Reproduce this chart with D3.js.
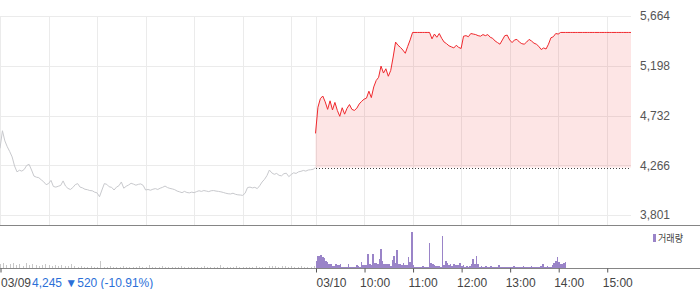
<!DOCTYPE html>
<html>
<head>
<meta charset="utf-8">
<script src="https://cdn.jsdelivr.net/npm/d3@7"></script>
<style>
  body { margin: 0; background: #fff; }
  svg { display: block; font-family: "Liberation Sans", Arial, sans-serif; }
</style>
</head>
<body>
<svg class="stockChart" width="700" height="289"></svg>
<script>
// two sessions, 09:00-15:30 each (390 minutes)
var dayLabels = ['03/09', '03/10'];
var hourLabels = ['10:00', '11:00', '12:00', '13:00', '14:00', '15:00'];
var yTicks = [3801, 4266, 4732, 5198, 5664];
var prevClose = 4245;
var closeText = '4,245 \u25BC520 (-10.91%)';
var legendLabel = '거래량';

// price every 3 minutes
var priceMinutes = d3.range(0, 391, 3);
var day1Price = [
  4425, 4590, 4495, 4440, 4395, 4345, 4260, 4205, 4220, 4212,
  4228, 4265, 4275, 4222, 4165, 4155, 4150, 4130, 4112, 4085,
  4095, 4125, 4068, 4062, 4070, 4078, 4120, 4072, 4050, 4040,
  4058, 4085, 4095, 4062, 4055, 4042, 4038, 4030, 4028, 4015,
  4008, 3972, 4035, 4095, 4088, 4065, 4060, 4035, 4062, 4075,
  4110, 4052, 4070, 4082, 4098, 4090, 4080, 4088, 4092, 4078,
  4035, 4040, 4033, 4042, 4048, 4040, 4052, 4060, 4072, 4058,
  4050, 4045, 4038, 4025, 4018, 4010, 4022, 4012, 4008, 4015,
  4010, 4020, 4028, 4022, 4030, 4025, 4020, 4028, 4030, 4025,
  4022, 4018, 4012, 4005, 4000, 3998, 4005, 3995, 3990, 3988,
  3985, 4005, 4058, 4062, 4055, 4060, 4048, 4075, 4110, 4135,
  4170, 4222, 4195, 4182, 4190, 4172, 4168, 4188, 4192, 4160,
  4180, 4196, 4190, 4205, 4210, 4218, 4212, 4222, 4225, 4228,
  4245
];
var day2Price = [
  4565, 4810, 4890, 4915, 4860, 4790, 4870, 4785, 4855, 4780,
  4725, 4805, 4745, 4800, 4835, 4790, 4780, 4800, 4840, 4865,
  4885, 4895, 4960, 4900, 5000, 5060, 5090, 5195, 5130, 5170,
  5100, 5155, 5280, 5420, 5390, 5370, 5345, 5315, 5380, 5440,
  5510, 5510, 5510, 5510, 5510, 5510, 5510, 5510, 5450, 5495,
  5465, 5500, 5455, 5420, 5405, 5385, 5375, 5365, 5390, 5370,
  5360, 5475, 5480, 5470, 5500, 5495, 5490, 5480, 5475, 5490,
  5480, 5490, 5465, 5455, 5430, 5415, 5400, 5440, 5480, 5485,
  5440, 5415, 5440, 5445, 5420, 5405, 5400, 5420, 5445, 5430,
  5410, 5400, 5380, 5350, 5365, 5355, 5400, 5460, 5470, 5500,
  5495, 5510, 5510, 5510, 5510, 5510, 5510, 5510, 5510, 5510,
  5510, 5510, 5510, 5510, 5510, 5510, 5510, 5510, 5510, 5510,
  5510, 5510, 5510, 5510, 5510, 5510, 5510, 5510, 5510, 5510,
  5510
];

// volume (thousand shares), 4-minute buckets on day 1, 2-minute on day 2
var day1VolMinutes = d3.range(0, 392, 4);
var day1Vol = [
  4, 5, 3, 4, 5, 3, 4, 2, 5, 3, 4, 3, 2, 3, 4,
  3, 2, 3, 2, 3, 2, 2, 4, 2, 1, 2, 1, 1, 2, 1, 1,
  7,
  1, 1, 2, 1, 1, 1, 2, 1, 1, 1, 1, 2, 1, 1, 3, 1, 1, 1, 2, 1, 1, 1, 1, 1, 2, 1, 1, 1, 1,
  1, 1, 2, 1, 1, 1, 1, 3, 1, 1, 1, 1, 2, 1, 1, 1, 1, 1, 2, 1, 1, 1, 2, 2, 2, 1, 2, 2, 1,
  2, 1, 1, 2, 1, 1, 1, 2
];
var day2VolMinutes = d3.range(0, 310, 2);
var day2Vol = [
  7, 12, 12, 13, 11, 10, 7, 6, 4, 4,
  2, 2, 4, 3, 3, 4, 1, 1, 1, 1,
  4, 1, 1, 1, 1, 3, 2, 1, 6, 3,
  3, 3, 14, 4, 3, 14, 5, 5, 4, 9,
  19, 7, 4, 4, 4, 4, 2, 8, 12, 5,
  18, 4, 4, 3, 5, 3, 3, 11, 6, 36,
  3, 1, 1, 1, 1, 1, 2, 1, 1, 1,
  25, 5, 4, 3, 2, 2, 2, 1, 32, 3,
  7, 5, 3, 4, 2, 4, 3, 3, 3, 5,
  2, 3, 1, 2, 1, 2, 4, 9, 4, 12,
  4, 1, 2, 1, 1, 2, 1, 1, 2, 1,
  1, 1, 1, 3, 1, 1, 1, 1, 1, 1,
  1, 1, 2, 1, 1, 1, 1, 1, 2, 1,
  1, 1, 1, 2, 1, 1, 1, 1, 1, 2,
  4, 1, 1, 2, 1, 1, 3, 5, 7, 11,
  6, 4, 4, 5, 6
];

const stockChart = () => {
  var width = 700;
  var plotRight = 631;
  var mainTop = 16, mainBottom = 225;
  var volBottom = 268;
  var session = 390;

  var x = d3.scaleLinear().domain([0, session * 2]).range([0, plotRight]);
  var tx = function(day, m) { return x(day * session + m); };

  var y = d3.scaleLinear().domain([yTicks[0], yTicks[yTicks.length - 1]]).range([215, 16]);
  var yVol = d3.scaleLinear().domain([0, 36]).range([volBottom, 232]);

  var svg = d3.select('svg.stockChart');

  // grid
  var grid = svg.append('g').attr('stroke', '#ebebeb').attr('stroke-width', 1);
  grid.selectAll('line.h')
    .data(yTicks)
    .enter()
    .append('line')
    .attr('x1', 0).attr('x2', plotRight)
    .attr('y1', function(d) { return Math.round(y(d)) + 0.5; })
    .attr('y2', function(d) { return Math.round(y(d)) + 0.5; });

  var gridMinutes = [];
  [0, 1].forEach(function(day) {
    d3.range(0, 361, 60).forEach(function(m) { gridMinutes.push(day * session + m); });
  });
  grid.selectAll('line.v')
    .data(gridMinutes)
    .enter()
    .append('line')
    .attr('x1', function(d) { return Math.round(x(d)) + 0.5; })
    .attr('x2', function(d) { return Math.round(x(d)) + 0.5; })
    .attr('y1', mainTop).attr('y2', mainBottom);

  // day 2 area + line
  var area = d3.area()
    .x(function(d, i) { return tx(1, priceMinutes[i]); })
    .y0(y(prevClose))
    .y1(function(d) { return y(d); });

  svg.append('path')
    .datum(day2Price)
    .attr('d', area)
    .attr('fill', 'rgba(240, 40, 45, 0.12)');

  var line1 = d3.line()
    .x(function(d, i) { return tx(0, priceMinutes[i]); })
    .y(function(d) { return y(d); });
  var line2 = d3.line()
    .x(function(d, i) { return tx(1, priceMinutes[i]); })
    .y(function(d) { return y(d); });

  svg.append('path')
    .datum(day1Price)
    .attr('d', line1)
    .attr('fill', 'none')
    .attr('stroke', '#c8c9cd')
    .attr('stroke-width', 1);

  svg.append('line')
    .attr('x1', Math.round(tx(1, 0))).attr('x2', plotRight)
    .attr('y1', Math.round(y(prevClose)) + 0.5)
    .attr('y2', Math.round(y(prevClose)) + 0.5)
    .attr('stroke', '#444')
    .attr('stroke-dasharray', '1,2')
    .attr('shape-rendering', 'crispEdges');

  svg.append('path')
    .datum(day2Price)
    .attr('d', line2)
    .attr('fill', 'none')
    .attr('stroke', '#f0282d')
    .attr('stroke-width', 1);

  // volume
  svg.append('g')
    .selectAll('rect')
    .data(day1Vol)
    .enter()
    .append('rect')
    .attr('x', function(d, i) { return tx(0, day1VolMinutes[i]); })
    .attr('y', function(d) { return yVol(d); })
    .attr('width', 1)
    .attr('height', function(d) { return volBottom - yVol(d); })
    .attr('fill', '#c8c8c8')
    .attr('shape-rendering', 'crispEdges');

  svg.append('g')
    .selectAll('rect')
    .data(day2Vol)
    .enter()
    .append('rect')
    .attr('x', function(d, i) { return tx(1, day2VolMinutes[i]); })
    .attr('y', function(d) { return yVol(d); })
    .attr('width', x(2) - x(0))
    .attr('height', function(d) { return volBottom - yVol(d); })
    .attr('fill', '#9a84c8')
    .attr('shape-rendering', 'crispEdges');

  // panel lines
  [mainBottom, volBottom].forEach(function(py) {
    svg.append('line')
      .attr('x1', 0).attr('x2', width)
      .attr('y1', py + 0.5).attr('y2', py + 0.5)
      .attr('stroke', '#858585');
  });

  // y labels
  svg.append('g')
    .selectAll('text')
    .data(yTicks)
    .enter()
    .append('text')
    .attr('x', 640)
    .attr('y', function(d) { return y(d); })
    .attr('dy', '0.35em')
    .attr('font-size', '12px')
    .attr('fill', '#555')
    .text(d3.format(','));

  // x axis ticks
  var tickValues = [0, session].concat(d3.range(60, 361, 60).map(function(m) { return session + m; }));
  var tickLabels = dayLabels.concat(hourLabels);
  var xAxis = d3.axisBottom(x)
    .tickValues(tickValues)
    .tickSize(4)
    .tickPadding(6)
    .tickFormat(function(d, i) { return tickLabels[i]; });

  var gx = svg.append('g')
    .attr('transform', 'translate(0.5,' + (volBottom + 0.5) + ')')
    .call(xAxis);
  gx.select('.domain').remove();
  gx.selectAll('line').attr('stroke', '#555');
  gx.selectAll('text')
    .attr('font-family', '"Liberation Sans", Arial, sans-serif')
    .attr('font-size', '12px')
    .attr('fill', '#444')
    .attr('text-anchor', 'start')
    .attr('dx', function(d, i) { return i < 2 ? 0 : -5; });

  svg.append('text')
    .attr('x', 32)
    .attr('y', 287)
    .attr('font-size', '12px')
    .attr('fill', '#2b6fd8')
    .text(closeText);

  // legend
  svg.append('rect')
    .attr('x', 653).attr('y', 234)
    .attr('width', 3).attr('height', 8)
    .attr('fill', '#9a84c8');
  svg.append('text')
    .attr('x', 658).attr('y', 242)
    .attr('font-family', '"Noto Sans CJK KR", sans-serif')
    .attr('font-size', '10px')
    .attr('textLength', 25)
    .attr('lengthAdjust', 'spacingAndGlyphs')
    .attr('fill', '#444')
    .text(legendLabel);
};

stockChart();
</script>
</body>
</html>
